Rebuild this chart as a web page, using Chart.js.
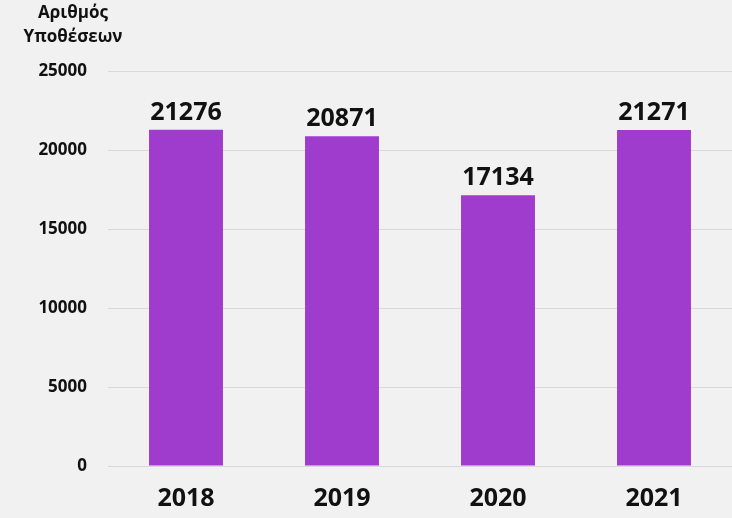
<!DOCTYPE html>
<html>
<head>
<meta charset="utf-8">
<script src="https://cdn.jsdelivr.net/npm/chart.js@4.4.0/dist/chart.umd.min.js"></script>
<style>
  html, body { margin: 0; padding: 0; background: #f1f1f1; }
  #wrap { width: 732px; height: 518px; }
</style>
</head>
<body>
<div id="wrap"><canvas id="cases"></canvas></div>
<script>
const years = ['2018', '2019', '2020', '2021'];
const caseCounts = [21276, 20871, 17134, 21271];
const yTicks = [0, 5000, 10000, 15000, 20000, 25000];
const axisTitle = ['Αριθμός', 'Υποθέσεων'];

const FONT = "'Open Sans', 'Noto Sans', sans-serif";
const BAR_COLOR = '#9f3bcd';

// background + title + value labels
const decorations = {
  id: 'decorations',
  beforeDraw(chart) {
    const ctx = chart.ctx;
    ctx.save();
    ctx.fillStyle = '#f1f1f1';
    ctx.fillRect(0, 0, chart.width, chart.height);
    ctx.restore();
  },
  afterDatasetsDraw(chart) {
    const ctx = chart.ctx;
    ctx.save();
    ctx.fillStyle = '#111';
    ctx.textAlign = 'center';
    ctx.textBaseline = 'middle';
    ctx.font = 'bold 17px ' + FONT;
    ctx.fillText(axisTitle[0], 73, 13);
    ctx.fillText(axisTitle[1], 73, 37);

    ctx.font = 'bold 25px ' + FONT;
    ctx.textBaseline = 'alphabetic';
    chart.getDatasetMeta(0).data.forEach((bar, i) => {
      ctx.fillText(String(caseCounts[i]), bar.x, bar.y - 10);
    });
    ctx.restore();
  }
};

new Chart(document.getElementById('cases'), {
  type: 'bar',
  data: {
    labels: years,
    datasets: [{
      data: caseCounts,
      backgroundColor: BAR_COLOR,
      categoryPercentage: 1,
      barPercentage: 0.474
    }]
  },
  options: {
    responsive: true,
    maintainAspectRatio: false,
    animation: false,
    layout: { padding: { top: 71, left: 0, right: 0, bottom: 0 } },
    plugins: { legend: { display: false }, tooltip: { enabled: false } },
    scales: {
      x: {
        grid: { display: false },
        border: { display: false },
        ticks: {
          color: '#111',
          padding: 10,
          font: { family: FONT, size: 25, weight: 'bold' }
        },
        afterFit(scale) { scale.height = 52; }
      },
      y: {
        min: 0,
        max: 25000,
        afterBuildTicks(scale) { scale.ticks = yTicks.map(v => ({ value: v })); },
        grid: { color: '#d9d9d9', drawTicks: false },
        border: { display: false },
        ticks: {
          color: '#111',
          padding: 21,
          font: { family: FONT, size: 17, weight: 'bold' },
          callback: (value) => String(value)
        },
        afterFit(scale) { scale.width = 108; }
      }
    }
  },
  plugins: [decorations]
});
</script>
</body>
</html>
